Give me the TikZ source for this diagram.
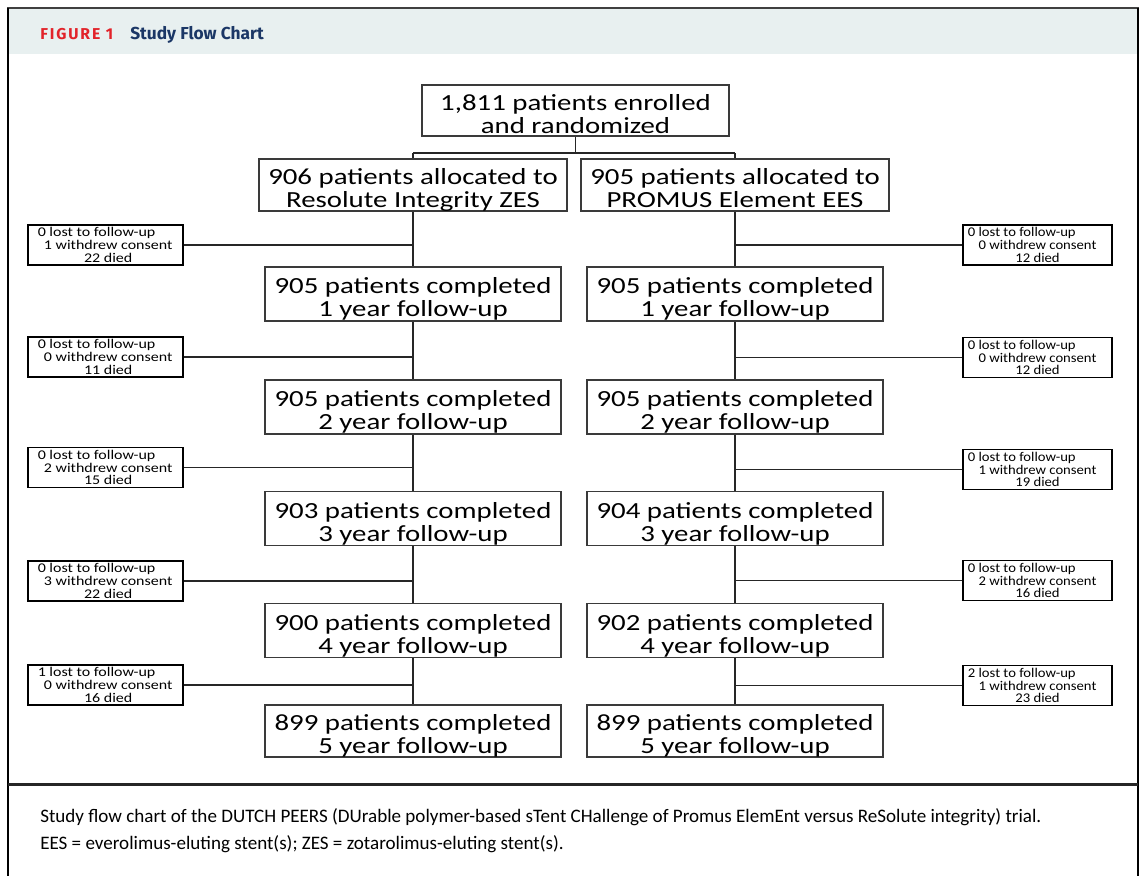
\documentclass[tikz,border=0pt]{standalone}
\usepackage{fontspec}
\usepackage{graphicx}
\setmainfont{Carlito}
\newfontfamily\hdrfont[LetterSpace=12]{Fira Sans}
\newfontfamily\ttlfont{Fira Sans}
\newfontfamily\capfont{Carlito}
\definecolor{band}{HTML}{E8F0F0}
\definecolor{figred}{HTML}{E2232A}
\definecolor{navy}{HTML}{1B3766}
\definecolor{boxline}{HTML}{3A3A3A}
\newcommand{\bigtxt}[2]{\raisebox{-9.3pt}[0pt][0pt]{\scalebox{1.25}[1]{\begin{tabular}{@{}c@{}}#1\\#2\end{tabular}}}}
\newcommand{\losttxt}[3]{\scalebox{1.1}[1]{\parbox{95pt}{\raggedright #1\par\centering #2\\#3}}}
\newcommand{\lostleft}[3]{\hspace*{4pt}\scalebox{1.2}[1]{\parbox{88pt}{\raggedright #1\par\centering #2\\#3}}}
\tikzset{
  bigbox/.style={draw=boxline,line width=1.1pt,fill=white,inner sep=0pt,
    font=\fontsize{17.3}{17.4}\selectfont},
  topbox/.style={bigbox,minimum width=230.25pt,minimum height=38.25pt},
  allocbox/.style={bigbox,minimum width=231pt,minimum height=39pt},
  compbox/.style={bigbox,minimum width=222pt,minimum height=40.5pt},
  lostL/.style={draw=black,line width=0.8pt,fill=white,inner sep=0pt,
    minimum width=116.25pt,minimum height=30pt,font=\fontsize{10}{9.5}\selectfont},
  lostR/.style={lostL,minimum width=111.75pt},
  conn/.style={draw=black!85,line width=0.9pt},
}
\begin{document}
\begin{tikzpicture}[x=0.75pt,y=-0.75pt]
\useasboundingbox (0,0) rectangle (1142,876);
\fill[white] (0,0) rectangle (1142,876);
% frame and header
\fill[band] (9,9) rectangle (1137,54);
\draw[black!75,line width=1pt] (7,8) -- (1139,8);
\draw[black,line width=1.8pt] (8,8) -- (8,876);
\draw[black,line width=2.2pt] (1138,8) -- (1138,876);
\draw[black!85,line width=1.6pt] (8,784.5) -- (1138,784.5);
\node[anchor=base west,inner sep=0pt,text=figred,font=\hdrfont\bfseries\fontsize{11.8}{12}\selectfont] (fig) at (40,39) {FIGURE 1};
\node[anchor=base west,inner sep=0pt,text=navy,font=\ttlfont\bfseries\fontsize{13}{14}\selectfont] (ttl) at (130,39) {Study Flow Chart};
% main boxes
\node[topbox] (top) at (575.5,110.5) {\bigtxt{1,811 patients enrolled}{and randomized}};
\node[allocbox] (zes) at (413,185) {\bigtxt{906 patients allocated to}{Resolute Integrity ZES}};
\node[allocbox] (ees) at (735,185) {\bigtxt{905 patients allocated to}{PROMUS Element EES}};
\node[compbox] (z1) at (413,294) {\bigtxt{905 patients completed}{1 year follow-up}};
\node[compbox] (e1) at (735,294) {\bigtxt{905 patients completed}{1 year follow-up}};
\node[compbox] (z2) at (413,407) {\bigtxt{905 patients completed}{2 year follow-up}};
\node[compbox] (e2) at (735,407) {\bigtxt{905 patients completed}{2 year follow-up}};
\node[compbox] (z3) at (413,518.5) {\bigtxt{903 patients completed}{3 year follow-up}};
\node[compbox] (e3) at (735,518.5) {\bigtxt{904 patients completed}{3 year follow-up}};
\node[compbox] (z4) at (413,630.5) {\bigtxt{900 patients completed}{4 year follow-up}};
\node[compbox] (e4) at (735,630.5) {\bigtxt{902 patients completed}{4 year follow-up}};
\node[compbox,minimum height=39pt] (z5) at (413,731) {\bigtxt{899 patients completed}{5 year follow-up}};
\node[compbox,minimum height=39pt] (e5) at (735,731) {\bigtxt{899 patients completed}{5 year follow-up}};
% loss boxes
\node[lostL] (l1) at (105.5,245) {\lostleft{0 lost to follow-up}{1 withdrew consent}{22 died}};
\node[lostR] (r1) at (1037.5,245) {\losttxt{0 lost to follow-up}{0 withdrew consent}{12 died}};
\node[lostL] (l2) at (105.5,357) {\lostleft{0 lost to follow-up}{0 withdrew consent}{11 died}};
\node[lostR] (r2) at (1037.5,357.5) {\losttxt{0 lost to follow-up}{0 withdrew consent}{12 died}};
\node[lostL] (l3) at (105.5,467.5) {\lostleft{0 lost to follow-up}{2 withdrew consent}{15 died}};
\node[lostR] (r3) at (1037.5,469.5) {\losttxt{0 lost to follow-up}{1 withdrew consent}{19 died}};
\node[lostL] (l4) at (105.5,581) {\lostleft{0 lost to follow-up}{3 withdrew consent}{22 died}};
\node[lostR] (r4) at (1037.5,580.5) {\losttxt{0 lost to follow-up}{2 withdrew consent}{16 died}};
\node[lostL] (l5) at (105.5,685) {\lostleft{1 lost to follow-up}{0 withdrew consent}{16 died}};
\node[lostR] (r5) at (1037.5,685.5) {\losttxt{2 lost to follow-up}{1 withdrew consent}{23 died}};
% connectors
\coordinate (split) at (575.5,153);
\draw[conn] (top.south) -- (split);
\draw[conn] (zes.north |- split) -- (ees.north |- split);
\draw[conn] (zes.north |- split) -- (zes.north);
\draw[conn] (ees.north |- split) -- (ees.north);
\draw[conn] (zes.south) -- (z1.north);
\draw[conn] (ees.south) -- (e1.north);
\draw[conn] (z1.south) -- (z2.north);
\draw[conn] (e1.south) -- (e2.north);
\draw[conn] (z2.south) -- (z3.north);
\draw[conn] (e2.south) -- (e3.north);
\draw[conn] (z3.south) -- (z4.north);
\draw[conn] (e3.south) -- (e4.north);
\draw[conn] (z4.south) -- (z5.north);
\draw[conn] (e4.south) -- (e5.north);
\draw[conn] (l1.east) -- (l1.east -| zes.south);
\draw[conn] (r1.west) -- (r1.west -| ees.south);
\draw[conn] (l2.east) -- (l2.east -| z1.south);
\draw[conn] (r2.west) -- (r2.west -| e1.south);
\draw[conn] (l3.east) -- (l3.east -| z2.south);
\draw[conn] (r3.west) -- (r3.west -| e2.south);
\draw[conn] (l4.east) -- (l4.east -| z3.south);
\draw[conn] (r4.west) -- (r4.west -| e3.south);
\draw[conn] (l5.east) -- (l5.east -| z4.south);
\draw[conn] (r5.west) -- (r5.west -| e4.south);
% caption
\node[anchor=base west,inner sep=0pt,font=\capfont\fontsize{14.3}{15}\selectfont] (cap1) at (40,822) {Study flow chart of the DUTCH PEERS (DUrable polymer-based sTent CHallenge of Promus ElemEnt versus ReSolute integrity) trial.};
\node[anchor=base west,inner sep=0pt,font=\capfont\fontsize{14.3}{15}\selectfont] (cap2) at (40,849) {EES = everolimus-eluting stent(s); ZES = zotarolimus-eluting stent(s).};
\end{tikzpicture}
\end{document}
